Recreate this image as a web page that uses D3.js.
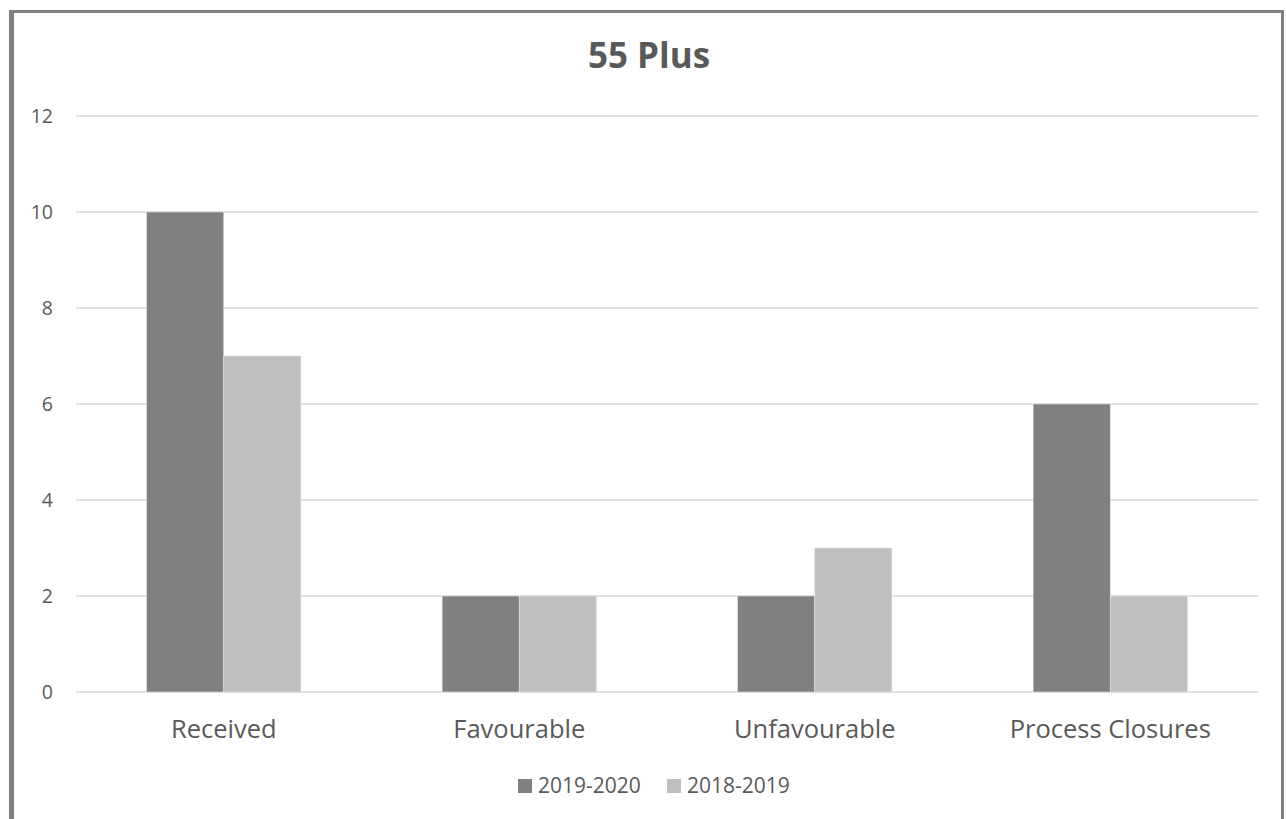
<!DOCTYPE html>
<html><head><meta charset="utf-8">
<script src="https://cdn.jsdelivr.net/npm/d3@7"></script>
<style>body{margin:0;background:#fff;} svg{display:block;}</style>
</head><body>
<svg id="c" width="1286" height="819"></svg>
<script>
const title = "55 Plus";
const categories = ["Received", "Favourable", "Unfavourable", "Process Closures"];
const seriesNames = ["2019-2020", "2018-2019"];
const values2019_2020 = [10, 2, 2, 6];
const values2018_2019 = [7, 2, 3, 2];
const yTicks = [0, 2, 4, 6, 8, 10, 12];
const colors = ["#808080", "#bfbfbf"];

(function () {
const series = [values2019_2020, values2018_2019];
const svg = d3.select("#c");
const font = "'Open Sans', sans-serif";

// border
svg.append("rect").attr("x", 11.5).attr("y", 11.5).attr("width", 1271).attr("height", 820)
  .attr("fill", "none").attr("stroke", "#808080").attr("stroke-width", 3);
svg.append("rect").attr("x", 9).attr("y", 10).attr("width", 5).attr("height", 809).attr("fill", "#808080");

const pl = 76, pr = 1258, pt = 116, pb = 692;
const x0 = d3.scaleBand().domain(categories).range([pl, pr]).paddingInner(0).paddingOuter(0);
const bw = x0.bandwidth();
const groupW = bw * 0.522;
const x1 = d3.scaleBand().domain(seriesNames).range([0, groupW]);
const y = d3.scaleLinear().domain([0, 12]).range([pb, pt]);

// gridlines
svg.append("g").selectAll("line").data(yTicks).join("line")
  .attr("x1", pl).attr("x2", pr)
  .attr("y1", d => y(d)).attr("y2", d => y(d))
  .attr("stroke", "#d9d9d9").attr("stroke-width", 1.3);

// y labels
const yAxis = d3.axisLeft(y).tickValues(yTicks).tickSize(0).tickPadding(0);
const gy = svg.append("g").attr("transform", `translate(53,0)`).call(yAxis);
gy.select(".domain").remove();
gy.selectAll("text").attr("font-family", font).attr("font-size", 19.5).attr("fill", "#595959").attr("dy", "0.35em");

// bars
categories.forEach((c, i) => {
  const gx = x0(c) + (bw - groupW) / 2;
  seriesNames.forEach((s, j) => {
    svg.append("rect")
      .attr("x", gx + x1(s)).attr("width", x1.bandwidth())
      .attr("y", y(series[j][i])).attr("height", y(0) - y(series[j][i]))
      .attr("fill", colors[j]).attr("stroke", "#e0e0e0").attr("stroke-width", 0.6);
  });
});

// x labels
const xAxis = d3.axisBottom(x0).tickSize(0).tickPadding(0);
const gx = svg.append("g").attr("transform", `translate(0,738)`).call(xAxis);
gx.select(".domain").remove();
gx.selectAll("text").attr("font-family", font).attr("font-size", 25.5).attr("fill", "#595959").attr("dy", 0);

// title
svg.append("text").attr("x", 649).attr("y", 68).attr("text-anchor", "middle")
  .attr("font-family", font).attr("font-weight", "bold").attr("font-size", 35).attr("fill", "#595959").text(title);

// legend
const legendX = [518, 667];
seriesNames.forEach((s, j) => {
  const g = svg.append("g").attr("transform", `translate(${legendX[j]},779)`);
  g.append("rect").attr("width", 14).attr("height", 14).attr("fill", colors[j]);
  g.append("text").attr("x", 20).attr("y", 14).attr("font-family", font).attr("font-size", 21)
    .attr("fill", "#595959").text(s);
});
})();
</script>
</body></html>
